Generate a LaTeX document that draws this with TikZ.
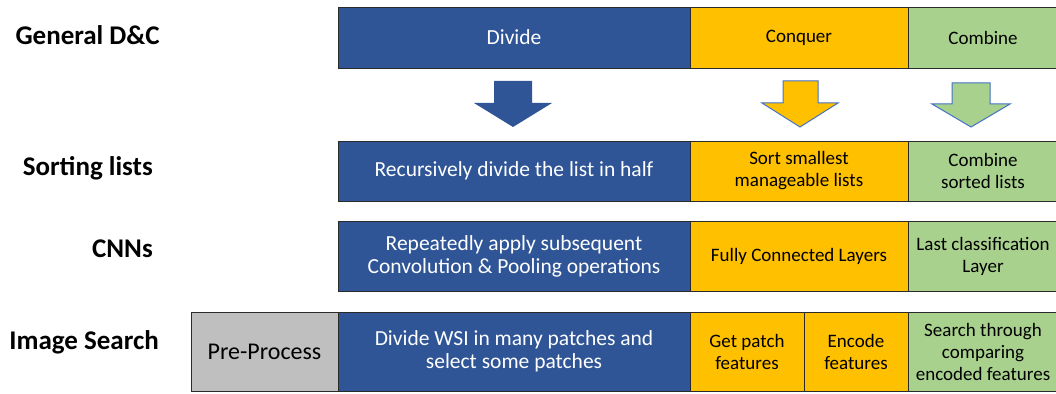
\documentclass[tikz,border=0pt]{standalone}
\usepackage{fontspec}
\setmainfont{Carlito}
\definecolor{dcblue}{HTML}{2F5597}
\definecolor{dcyellow}{HTML}{FFC000}
\definecolor{dcgreen}{HTML}{A9D18E}
\definecolor{dcgray}{HTML}{BFBFBF}
\definecolor{dcline}{HTML}{2A2A2A}
\definecolor{dcoutline}{HTML}{4472C4}
\begin{document}
\begin{tikzpicture}[x=1pt,y=-1pt,
  cell/.style={draw=dcline, line width=0.8pt, inner sep=2pt, align=center, font=\fontsize{19}{22}\selectfont},
  bluecell/.style={cell, fill=dcblue, text=white, font=\fontsize{21.5}{23}\selectfont},
  yelcell/.style={cell, fill=dcyellow, text=black},
  grncell/.style={cell, fill=dcgreen, text=black},
  graycell/.style={cell, fill=dcgray, text=black, font=\fontsize{24}{26}\selectfont},
  rowlabel/.style={anchor=east, inner sep=0pt, font=\bfseries\fontsize{27}{30}\selectfont}
]
\useasboundingbox (0,0) rectangle (1056,393);
% row labels
\node[rowlabel] (l1) at (160,35) {General D\&C};
\node[rowlabel] (l2) at (153,168) {Sorting lists};
\node[rowlabel] (l3) at (153,249) {CNNs};
\node[rowlabel] (l4) at (159,342) {Image Search};
% row 1
\path[bluecell] (338,7) rectangle (690,68) node[midway, draw=none] (r1a) {Divide};
\path[yelcell] (690,7) rectangle (908,68) node[midway, draw=none] (r1b) {Conquer};
\path[grncell] (908,7) rectangle (1058,68) node[midway, draw=none] (r1c) {Combine};
% arrows
\fill[dcblue] (494,81) -- (532,81) -- (532,103) -- (552,103) -- (513,127) -- (474,103) -- (494,103) -- cycle;
\filldraw[fill=dcyellow, draw=dcoutline, line width=1pt] (783,81) -- (818,81) -- (818,103) -- (838,103) -- (800,127) -- (762,103) -- (783,103) -- cycle;
\filldraw[fill=dcgreen, draw=dcoutline, line width=1pt] (952,83) -- (990,83) -- (990,104) -- (1010,104) -- (971,127) -- (932,104) -- (952,104) -- cycle;
% row 2
\path[bluecell] (338,141) rectangle (690,201) node[midway, draw=none] (r2a) {Recursively divide the list in half};
\path[yelcell] (690,141) rectangle (908,201) node[midway, draw=none, align=center] (r2b) {Sort smallest\\manageable lists};
\path[grncell] (908,141) rectangle (1058,201) node[midway, draw=none, align=center] (r2c) {Combine\\sorted lists};
% row 3
\path[bluecell] (338,221) rectangle (690,291) node[midway, draw=none, align=center] (r3a) {Repeatedly apply subsequent\\Convolution \& Pooling operations};
\path[yelcell] (690,221) rectangle (908,291) node[midway, draw=none] (r3b) {Fully Connected Layers};
\path[grncell] (908,221) rectangle (1058,291) node[midway, draw=none, align=center] (r3c) {Last classification\\Layer};
% row 4
\path[graycell] (191,312) rectangle (338,391) node[midway, draw=none] (r4p) {Pre-Process};
\path[bluecell] (338,312) rectangle (690,391) node[midway, draw=none, align=center] (r4a) {Divide WSI in many patches and\\select some patches};
\path[yelcell] (690,312) rectangle (804,391) node[midway, draw=none, align=center] (r4b) {Get patch\\features};
\path[yelcell] (804,312) rectangle (908,391) node[midway, draw=none, align=center] (r4c) {Encode\\features};
\path[grncell] (908,312) rectangle (1058,391) node[midway, draw=none, align=center] (r4d) {Search through\\comparing\\encoded features};
\end{tikzpicture}
\end{document}
